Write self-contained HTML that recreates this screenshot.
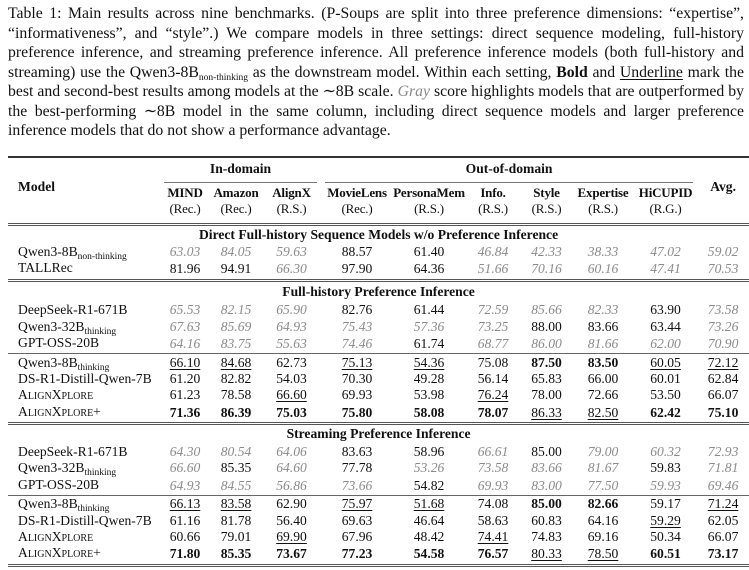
<!DOCTYPE html>
<html><head><meta charset="utf-8"><style>
body{margin:0;width:749px;height:570px;background:#fff;font-family:"Liberation Serif",serif;color:#111;overflow:hidden;position:relative}
.cap{position:absolute;left:8px;top:4px;width:736px;font-size:15.75px;line-height:19.5px;text-align:justify}
table{position:absolute;left:8px;top:156px;border-collapse:collapse;width:741px;table-layout:fixed;font-size:13.6px}
td{padding:0;text-align:center;white-space:nowrap;line-height:16px;height:16.4px}
td.m{text-align:left;padding-left:10px}
.g{color:#8a8a8a;font-style:italic}
b{font-weight:bold}
u{text-decoration:underline;text-underline-offset:2px}
sub{font-size:9.5px;vertical-align:-3px;line-height:0}
.sc{font-variant:small-caps}
.top td{border-top:2px solid #333}
.dbl td{border-bottom:3.5px double #555}
.sep td{border-bottom:1.5px solid #666}
.sec td{font-weight:bold;height:17px}
.hd td{font-size:13px;letter-spacing:-0.2px}
</style></head><body>
<div class="cap">Table 1: Main results across nine benchmarks. (P-Soups are split into three preference dimensions: “expertise”, “informativeness”, and “style”.) We compare models in three settings: direct sequence modeling, full-history preference inference, and streaming preference inference. All preference inference models (both full-history and streaming) use the Qwen3-8B<sub>non-thinking</sub> as the downstream model. Within each setting, <b>Bold</b> and <u>Underline</u> mark the best and second-best results among models at the ∼8B scale. <i style="color:#888">Gray</i> score highlights models that are outperformed by the best-performing ∼8B model in the same column, including direct sequence models and larger preference inference models that do not show a performance advantage.</div>
<table>
<colgroup><col style="width:152px"><col style="width:50px"><col style="width:52px"><col style="width:59px"><col style="width:72px"><col style="width:72px"><col style="width:56px"><col style="width:51px"><col style="width:62px"><col style="width:63px"><col style="width:52px"></colgroup>
<tr class="top"><td class="m" rowspan="3" style="font-weight:bold;vertical-align:middle;padding-bottom:8px;border-bottom:3.5px double #555">Model</td><td colspan="3" style="font-weight:bold;height:27px"><div style="border-bottom:1px solid #777;margin:0 4px;padding-bottom:5px">In-domain</div></td><td colspan="6" style="font-weight:bold"><div style="border-bottom:1px solid #777;margin:0 4px;padding-bottom:5px">Out-of-domain</div></td><td rowspan="3" style="font-weight:bold;padding-bottom:8px;border-bottom:3.5px double #555">Avg.</td></tr>
<tr class="hd" style="font-weight:bold"><td>MIND</td><td>Amazon</td><td>AlignX</td><td>MovieLens</td><td>PersonaMem</td><td>Info.</td><td>Style</td><td>Expertise</td><td>HiCUPID</td></tr>
<tr class="dbl hd"><td style="height:22px;vertical-align:top">(Rec.)</td><td style="vertical-align:top">(Rec.)</td><td style="vertical-align:top">(R.S.)</td><td style="vertical-align:top">(Rec.)</td><td style="vertical-align:top">(R.S.)</td><td style="vertical-align:top">(R.S.)</td><td style="vertical-align:top">(R.S.)</td><td style="vertical-align:top">(R.S.)</td><td style="vertical-align:top">(R.G.)</td></tr>
<tr class="sec"><td colspan="11">Direct Full-history Sequence Models w/o Preference Inference</td></tr>
<tr><td class="m">Qwen3-8B<sub>non-thinking</sub></td><td class="g">63.03</td><td class="g">84.05</td><td class="g">59.63</td><td>88.57</td><td>61.40</td><td class="g">46.84</td><td class="g">42.33</td><td class="g">38.33</td><td class="g">47.02</td><td class="g">59.02</td></tr>
<tr class="dbl"><td class="m" style="padding-bottom:3px">TALLRec</td><td>81.96</td><td>94.91</td><td class="g">66.30</td><td>97.90</td><td>64.36</td><td class="g">51.66</td><td class="g">70.16</td><td class="g">60.16</td><td class="g">47.41</td><td class="g">70.53</td></tr>
<tr class="sec"><td colspan="11" style="height:20px">Full-history Preference Inference</td></tr>
<tr><td class="m">DeepSeek-R1-671B</td><td class="g">65.53</td><td class="g">82.15</td><td class="g">65.90</td><td>82.76</td><td>61.44</td><td class="g">72.59</td><td class="g">85.66</td><td class="g">82.33</td><td>63.90</td><td class="g">73.58</td></tr>
<tr><td class="m">Qwen3-32B<sub>thinking</sub></td><td class="g">67.63</td><td class="g">85.69</td><td class="g">64.93</td><td class="g">75.43</td><td class="g">57.36</td><td class="g">73.25</td><td>88.00</td><td>83.66</td><td>63.44</td><td class="g">73.26</td></tr>
<tr class="sep"><td class="m" style="padding-bottom:2px">GPT-OSS-20B</td><td class="g">64.16</td><td class="g">83.75</td><td class="g">55.63</td><td class="g">74.46</td><td>61.74</td><td class="g">68.77</td><td class="g">86.00</td><td class="g">81.66</td><td class="g">62.00</td><td class="g">70.90</td></tr>
<tr><td class="m">Qwen3-8B<sub>thinking</sub></td><td><u>66.10</u></td><td><u>84.68</u></td><td>62.73</td><td><u>75.13</u></td><td><u>54.36</u></td><td>75.08</td><td><b>87.50</b></td><td><b>83.50</b></td><td><u>60.05</u></td><td><u>72.12</u></td></tr>
<tr><td class="m">DS-R1-Distill-Qwen-7B</td><td>61.20</td><td>82.82</td><td>54.03</td><td>70.30</td><td>49.28</td><td>56.14</td><td>65.83</td><td>66.00</td><td>60.01</td><td>62.84</td></tr>
<tr><td class="m"><span class="sc">AlignXplore</span></td><td>61.23</td><td>78.58</td><td><u>66.60</u></td><td>69.93</td><td>53.98</td><td><u>76.24</u></td><td>78.00</td><td>72.66</td><td>53.50</td><td>66.07</td></tr>
<tr class="dbl" style="font-weight:bold"><td class="m" style="font-weight:normal;padding-bottom:2px"><span class="sc">AlignXplore+</span></td><td>71.36</td><td>86.39</td><td>75.03</td><td>75.80</td><td>58.08</td><td>78.07</td><td style="font-weight:normal"><u>86.33</u></td><td style="font-weight:normal"><u>82.50</u></td><td>62.42</td><td>75.10</td></tr>
<tr class="sec"><td colspan="11" style="height:19px">Streaming Preference Inference</td></tr>
<tr><td class="m">DeepSeek-R1-671B</td><td class="g">64.30</td><td class="g">80.54</td><td class="g">64.06</td><td>83.63</td><td>58.96</td><td class="g">66.61</td><td>85.00</td><td class="g">79.00</td><td class="g">60.32</td><td class="g">72.93</td></tr>
<tr><td class="m">Qwen3-32B<sub>thinking</sub></td><td class="g">66.60</td><td>85.35</td><td class="g">64.60</td><td>77.78</td><td class="g">53.26</td><td class="g">73.58</td><td class="g">83.66</td><td class="g">81.67</td><td>59.83</td><td class="g">71.81</td></tr>
<tr class="sep"><td class="m" style="padding-bottom:2px">GPT-OSS-20B</td><td class="g">64.93</td><td class="g">84.55</td><td class="g">56.86</td><td class="g">73.66</td><td>54.82</td><td class="g">69.93</td><td class="g">83.00</td><td class="g">77.50</td><td class="g">59.93</td><td class="g">69.46</td></tr>
<tr><td class="m">Qwen3-8B<sub>thinking</sub></td><td><u>66.13</u></td><td><u>83.58</u></td><td>62.90</td><td><u>75.97</u></td><td><u>51.68</u></td><td>74.08</td><td><b>85.00</b></td><td><b>82.66</b></td><td>59.17</td><td><u>71.24</u></td></tr>
<tr><td class="m">DS-R1-Distill-Qwen-7B</td><td>61.16</td><td>81.78</td><td>56.40</td><td>69.63</td><td>46.64</td><td>58.63</td><td>60.83</td><td>64.16</td><td><u>59.29</u></td><td>62.05</td></tr>
<tr><td class="m"><span class="sc">AlignXplore</span></td><td>60.66</td><td>79.01</td><td><u>69.90</u></td><td>67.96</td><td>48.42</td><td><u>74.41</u></td><td>74.83</td><td>69.16</td><td>50.34</td><td>66.07</td></tr>
<tr class="dbl" style="font-weight:bold"><td class="m" style="font-weight:normal;padding-bottom:2px"><span class="sc">AlignXplore+</span></td><td>71.80</td><td>85.35</td><td>73.67</td><td>77.23</td><td>54.58</td><td>76.57</td><td style="font-weight:normal"><u>80.33</u></td><td style="font-weight:normal"><u>78.50</u></td><td>60.51</td><td>73.17</td></tr>
</table>
</body></html>
